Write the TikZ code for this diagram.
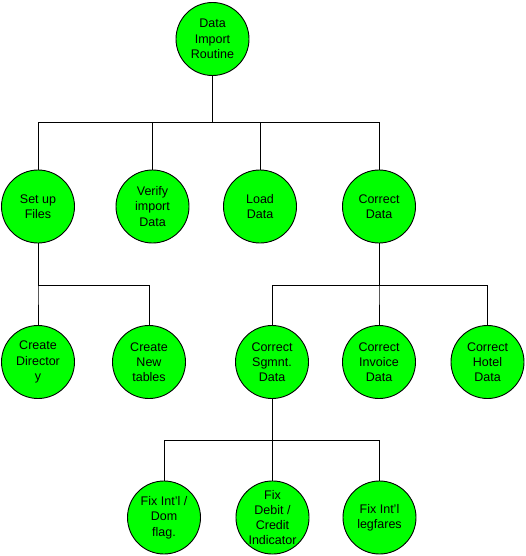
\documentclass[tikz,border=0pt]{standalone}
\usepackage{fontspec}
\setmainfont{Liberation Sans}
\definecolor{nodegreen}{RGB}{0,255,0}
\begin{document}
\begin{tikzpicture}[x=1pt,y=-1pt,
  bubble/.style={circle,draw=black,line width=0.9pt,fill=nodegreen,minimum size=73pt,inner sep=0pt,align=center,font=\fontsize{12.5}{15.3}\selectfont},
  link/.style={draw=black,line width=1pt}]
\useasboundingbox (0,0) rectangle (525,556);
\node[bubble] (root) at (212.5,39) {Data\\Import\\Routine};
\node[bubble] (setup) at (38,206.5) {Set up\\Files};
\node[bubble] (verify) at (152.5,206.5) {Verify\\import\\Data};
\node[bubble] (load) at (260,206.5) {Load\\Data};
\node[bubble] (correct) at (379,206.5) {Correct\\Data};
\node[bubble] (dir) at (38,362) {Create\\Director\\y};
\node[bubble] (newtab) at (149,362) {Create\\New\\tables};
\node[bubble] (sgmnt) at (272,362) {Correct\\Sgmnt.\\Data};
\node[bubble] (invoice) at (379,362) {Correct\\Invoice\\Data};
\node[bubble] (hotel) at (487.5,362) {Correct\\Hotel\\Data};
\node[bubble] (fixdom) at (164,517.5) {Fix Int'l /\\Dom\\flag.};
\node[bubble] (fixdebit) at (272.5,517.5) {Fix\\Debit /\\Credit\\Indicator};
\node[bubble] (fixleg) at (379.5,517.5) {Fix Int'l\\legfares};
\coordinate (barA) at (0,122.3);
\coordinate (barB) at (0,285);
\coordinate (barC) at (0,440.3);
\foreach \c in {setup,verify,load,correct}
  \draw[link] (root.south) -- (root.south |- barA) -| (\c.north);
\foreach \c in {dir,newtab}
  \draw[link] (setup.south) -- (setup.south |- barB) -| (\c.north);
\foreach \c in {sgmnt,invoice,hotel}
  \draw[link] (correct.south) -- (correct.south |- barB) -| (\c.north);
\foreach \c in {fixdom,fixdebit,fixleg}
  \draw[link] (sgmnt.south) -- (sgmnt.south |- barC) -| (\c.north);
\end{tikzpicture}
\end{document}
